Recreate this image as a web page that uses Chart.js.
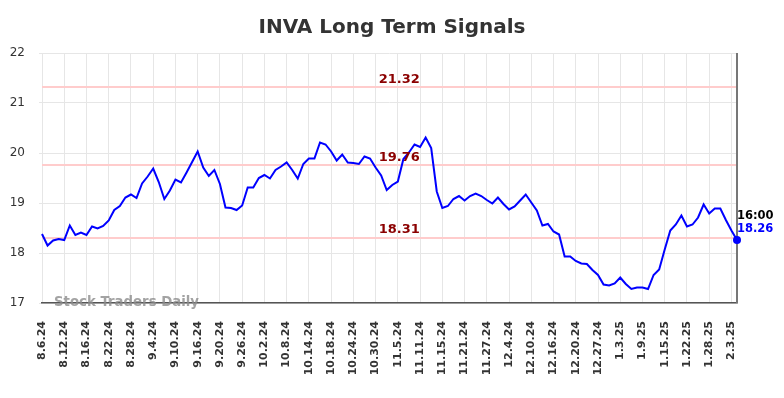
<!DOCTYPE html>
<html><head><meta charset="utf-8">
<script src="https://cdn.jsdelivr.net/npm/chart.js@4"></script>
<style>html,body{margin:0;padding:0;background:#fff}canvas{display:block}</style>
</head><body>
<canvas id="c" width="784" height="398"></canvas>
<script>
const titleText = 'INVA Long Term Signals';
const watermark = 'Stock Traders Daily';
const lastTime = '16:00';
const dates = [
'8.6.24','8.7.24','8.8.24','8.9.24','8.12.24','8.13.24','8.14.24','8.15.24','8.16.24','8.19.24','8.20.24','8.21.24','8.22.24','8.23.24','8.26.24','8.27.24','8.28.24','8.29.24','8.30.24',
'9.3.24','9.4.24','9.5.24','9.6.24','9.9.24','9.10.24','9.11.24','9.12.24','9.13.24','9.16.24','9.17.24','9.18.24','9.19.24','9.20.24','9.23.24','9.24.24','9.25.24','9.26.24','9.27.24','9.30.24',
'10.1.24','10.2.24','10.3.24','10.4.24','10.7.24','10.8.24','10.9.24','10.10.24','10.11.24','10.14.24','10.15.24','10.16.24','10.17.24','10.18.24','10.21.24','10.22.24','10.23.24','10.24.24','10.25.24','10.28.24','10.29.24','10.30.24','10.31.24',
'11.1.24','11.4.24','11.5.24','11.6.24','11.7.24','11.8.24','11.11.24','11.12.24','11.13.24','11.14.24','11.15.24','11.18.24','11.19.24','11.20.24','11.21.24','11.22.24','11.25.24','11.26.24','11.27.24','11.29.24',
'12.2.24','12.3.24','12.4.24','12.5.24','12.6.24','12.9.24','12.10.24','12.11.24','12.12.24','12.13.24','12.16.24','12.17.24','12.18.24','12.19.24','12.20.24','12.23.24','12.24.24','12.26.24','12.27.24','12.30.24','12.31.24',
'1.2.25','1.3.25','1.6.25','1.7.25','1.8.25','1.9.25','1.10.25','1.13.25','1.14.25','1.15.25','1.16.25','1.17.25','1.21.25','1.22.25','1.23.25','1.24.25','1.27.25','1.28.25','1.29.25','1.30.25','1.31.25',
'2.3.25','2.4.25'
];
const prices = [
18.38,18.15,18.25,18.28,18.26,18.55,18.36,18.41,18.36,18.53,18.49,18.54,18.65,18.86,18.94,19.11,19.17,19.10,19.39,19.53,
19.69,19.42,19.08,19.25,19.47,19.41,19.61,19.82,20.03,19.71,19.54,19.66,19.38,18.91,18.90,18.86,18.95,19.31,19.31,19.50,
19.56,19.49,19.66,19.73,19.81,19.66,19.49,19.78,19.89,19.89,20.21,20.17,20.03,19.85,19.97,19.81,19.80,19.78,19.93,19.89,
19.71,19.55,19.26,19.36,19.43,19.88,20.01,20.17,20.12,20.31,20.10,19.23,18.90,18.94,19.08,19.14,19.05,19.14,19.19,19.14,
19.06,18.99,19.11,18.98,18.87,18.93,19.05,19.17,19.01,18.85,18.55,18.58,18.43,18.37,17.93,17.93,17.84,17.79,17.78,17.66,
17.56,17.37,17.35,17.39,17.51,17.38,17.28,17.31,17.31,17.28,17.56,17.67,18.07,18.45,18.57,18.75,18.53,18.57,18.71,18.97,
18.79,18.89,18.89,18.66,18.45,18.26
];
const levels = [21.32, 19.76, 18.31];
const yTicks = [17, 18, 19, 20, 21, 22];
const tickEvery = 4;

Chart.defaults.font.family = '"DejaVu Sans", sans-serif';

const overlay = {
  id: 'overlay',
  beforeDatasetsDraw(chart) {
    const {ctx, chartArea: a, scales: {y}} = chart;
    ctx.save();
    ctx.strokeStyle = '#ffcccc';
    ctx.lineWidth = 2;
    levels.forEach(v => {
      const py = Math.round(y.getPixelForValue(v));
      ctx.beginPath(); ctx.moveTo(a.left, py); ctx.lineTo(a.right, py); ctx.stroke();
    });
    ctx.strokeStyle = '#777';
    ctx.lineWidth = 2;
    ctx.beginPath(); ctx.moveTo(a.right, a.top); ctx.lineTo(a.right, a.bottom); ctx.stroke();
    ctx.restore();
  },
  afterDatasetsDraw(chart) {
    const {ctx, chartArea: a, scales: {x, y}} = chart;
    ctx.save();
    ctx.font = 'bold 13px "DejaVu Sans"';
    ctx.fillStyle = '#8b0000';
    ctx.textAlign = 'center';
    ctx.textBaseline = 'middle';
    const cx = a.left + (a.right - a.left) * 0.514;
    levels.forEach(v => ctx.fillText(v.toFixed(2), cx, y.getPixelForValue(v) - 7.5));
    const li = prices.length - 1;
    const px = x.getPixelForValue(li), py = y.getPixelForValue(prices[li]);
    ctx.fillStyle = '#0000ff';
    ctx.beginPath(); ctx.arc(px, py, 4, 0, Math.PI * 2); ctx.fill();
    ctx.font = 'bold 11.5px "DejaVu Sans"';
    ctx.textAlign = 'left';
    ctx.fillStyle = '#000';
    ctx.fillText(lastTime, px, py - 23.5);
    ctx.fillStyle = '#0000ff';
    ctx.fillText(prices[li].toFixed(2), px, py - 11);
    ctx.restore();
  },
  afterDraw(chart) {
    const {ctx, chartArea: a} = chart;
    ctx.save();
    ctx.font = 'bold 20px "DejaVu Sans"';
    ctx.fillStyle = '#333';
    ctx.textAlign = 'center';
    ctx.textBaseline = 'middle';
    ctx.fillText(titleText, 392, 27.5);
    ctx.font = 'bold 13.3px "DejaVu Sans"';
    ctx.fillStyle = 'rgba(140,140,140,0.8)';
    ctx.textAlign = 'left';
    ctx.fillText(watermark, a.left + 12, a.bottom - 0.5);
    ctx.restore();
  }
};

new Chart(document.getElementById('c'), {
  type: 'line',
  data: {
    labels: dates,
    datasets: [{
      data: prices,
      borderColor: '#0000ff',
      borderWidth: 2,
      pointRadius: 0,
      tension: 0,
      fill: false
    }]
  },
  options: {
    responsive: false,
    animation: false,
    devicePixelRatio: 1,
    layout: {padding: {top: 53, right: 47, left: 0, bottom: 0}},
    plugins: {legend: {display: false}, title: {display: false}, tooltip: {enabled: false}},
    scales: {
      x: {
        grid: {color: '#e6e6e6', drawTicks: false, lineWidth: 1},
        border: {color: '#555', width: 1.5},
        ticks: {autoSkip: false, maxRotation: 90, minRotation: 90, padding: 18, color: '#333', font: {size: 11, weight: 'bold'}},
        afterBuildTicks: s => { s.ticks = s.ticks.filter(t => t.value % tickEvery === 0); },
        afterFit: s => { s.height = 95; }
      },
      y: {
        min: yTicks[0], max: yTicks[yTicks.length - 1],
        grid: {color: '#e6e6e6', tickLength: 3},
        border: {display: false},
        ticks: {padding: 14, color: '#333', font: {size: 12}},
        afterBuildTicks: s => { s.ticks = yTicks.map(v => ({value: v})); },
        afterFit: s => { s.width = 42; }
      }
    }
  },
  plugins: [overlay]
});
</script>
</body></html>
